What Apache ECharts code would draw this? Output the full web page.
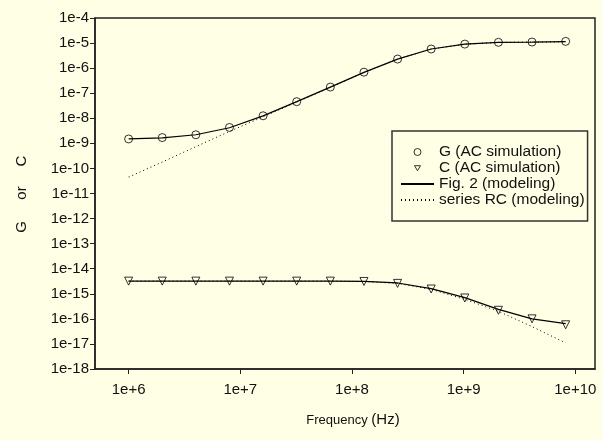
<!DOCTYPE html>
<html>
<head>
<meta charset="utf-8">
<script src="https://cdn.jsdelivr.net/npm/echarts@6/dist/echarts.min.js"></script>
<style>
  html, body { margin: 0; padding: 0; background: #ffffe6; }
  #chart { width: 602px; height: 440px; }
</style>
</head>
<body>
<div id="chart"></div>
<script>
// frequency points (Hz), doubling from 1 MHz
const freq = [1e6, 2e6, 4e6, 8e6, 1.6e7, 3.2e7, 6.4e7, 1.28e8, 2.56e8, 5.12e8, 1.024e9, 2.048e9, 4.096e9, 8.192e9];

// G curves
const gSim  = [1.5e-9, 1.7e-9, 2.2e-9, 4.3e-9, 1.26e-8, 4.6e-8, 1.76e-7, 6.9e-7, 2.3e-6, 5.8e-6, 9.1e-6, 1.07e-5, 1.1e-5, 1.17e-5];
const gFig2 = [1.5e-9, 1.65e-9, 2.2e-9, 4.2e-9, 1.25e-8, 4.6e-8, 1.75e-7, 6.8e-7, 2.3e-6, 5.8e-6, 9.0e-6, 1.06e-5, 1.1e-5, 1.15e-5];
const gRC   = [4.5e-11, 1.8e-10, 7.4e-10, 3.0e-9, 1.15e-8, 4.4e-8, 1.7e-7, 6.7e-7, 2.3e-6, 5.8e-6, 9.0e-6, 1.06e-5, 1.1e-5, 1.12e-5];

// C curves
const cSim  = [3.2e-15, 3.2e-15, 3.2e-15, 3.2e-15, 3.2e-15, 3.2e-15, 3.2e-15, 3.1e-15, 2.6e-15, 1.55e-15, 6.8e-16, 2.2e-16, 1.0e-16, 5.8e-17];
const cFig2 = [3.2e-15, 3.2e-15, 3.2e-15, 3.2e-15, 3.2e-15, 3.2e-15, 3.2e-15, 3.1e-15, 2.7e-15, 1.6e-15, 7.0e-16, 2.4e-16, 1.0e-16, 6.5e-17];
const cRC   = [3.2e-15, 3.2e-15, 3.2e-15, 3.2e-15, 3.2e-15, 3.2e-15, 3.2e-15, 3.1e-15, 2.6e-15, 1.5e-15, 6.0e-16, 2.0e-16, 4.9e-17, 1.1e-17];

// axis ticks
const xTicks = [1e6, 1e7, 1e8, 1e9, 1e10];

const FONT = '"Liberation Sans", Arial, sans-serif';
const pairs = (ys) => freq.map((f, i) => [f, ys[i]]);
const expOf = (v) => Math.round(Math.log10(v));

const chart = echarts.init(document.getElementById('chart'));

const simStyle = { color: 'transparent', borderColor: '#000', borderWidth: 1 };
// hide the little dot that line series put in the middle of their legend icon
const noDot = { color: 'transparent', borderWidth: 0 };

// legend icons; the extra moveTo points keep the small shapes from being stretched
const downTriangle = 'path://M0,0M33,7M13.5,1.2L19.5,1.2L16.5,6.2Z';

chart.setOption({
  backgroundColor: '#ffffe6',
  animation: false,
  grid: {
    left: 95, top: 18, right: 7, bottom: 71,
    show: true, borderColor: '#222', borderWidth: 1.5, backgroundColor: 'transparent'
  },
  xAxis: {
    type: 'log',
    logBase: 10,
    min: 5e5,
    max: 1.5e10,
    axisLine: { onZero: false, lineStyle: { color: '#222', width: 1.5 } },
    axisTick: { length: 5, customValues: xTicks, lineStyle: { color: '#222', width: 1 } },
    axisLabel: {
      customValues: xTicks,
      margin: 13,
      color: '#111',
      fontFamily: FONT,
      fontSize: 15,
      formatter: (v) => '1e+' + expOf(v)
    },
    splitLine: { show: false },
    minorTick: { show: false }
  },
  yAxis: {
    type: 'log',
    logBase: 10,
    min: 1e-18,
    max: 1e-4,
    interval: 1,
    axisLine: { onZero: false, lineStyle: { color: '#222', width: 1.5 } },
    axisTick: { length: 5, lineStyle: { color: '#222', width: 1 } },
    axisLabel: {
      margin: 6,
      color: '#111',
      fontFamily: FONT,
      fontSize: 15,
      formatter: (v) => '1e' + expOf(v)
    },
    splitLine: { show: false }
  },
  legend: {
    orient: 'vertical',
    left: 392,
    top: 131,
    padding: [13, 3, 13, 8],
    itemGap: 0,
    itemWidth: 33,
    itemHeight: 7,
    borderColor: '#333',
    borderWidth: 1.5,
    backgroundColor: '#ffffe6',
    textStyle: { color: '#111', fontFamily: FONT, fontSize: 15.5, lineHeight: 16 },
    data: [
      { name: 'G (AC simulation)', icon: 'circle',
        itemStyle: { color: 'transparent', borderColor: '#000', borderWidth: 1 } },
      { name: 'C (AC simulation)', icon: downTriangle, symbolRotate: 0,
        itemStyle: { color: 'transparent', borderColor: '#000', borderWidth: 1 } },
      { name: 'Fig. 2 (modeling)' },
      { name: 'series RC (modeling)' }
    ]
  },
  graphic: [
    { type: 'text', x: 22, y: 227, rotation: Math.PI / 2,
      style: { text: 'G', font: '15px ' + FONT, fill: '#111', align: 'center', verticalAlign: 'middle' } },
    { type: 'text', x: 22, y: 193, rotation: Math.PI / 2,
      style: { text: 'or', font: '15px ' + FONT, fill: '#111', align: 'center', verticalAlign: 'middle' } },
    { type: 'text', x: 22, y: 161, rotation: Math.PI / 2,
      style: { text: 'C', font: '15px ' + FONT, fill: '#111', align: 'center', verticalAlign: 'middle' } },
    { type: 'text', x: 353, y: 420,
      style: {
        text: '{a|Frequency }{b|(Hz)}',
        align: 'center', verticalAlign: 'middle',
        rich: {
          a: { fontSize: 13, fontFamily: FONT, fill: '#111' },
          b: { fontSize: 15, fontFamily: FONT, fill: '#111' }
        }
      } }
  ],
  series: [
    { name: 'Fig. 2 (modeling)', type: 'line', data: pairs(gFig2), symbol: 'none',
      lineStyle: { color: '#000', width: 1.2 }, itemStyle: noDot, z: 3 },
    { name: 'Fig. 2 (modeling)', type: 'line', data: pairs(cFig2), symbol: 'none',
      lineStyle: { color: '#000', width: 1.2 }, itemStyle: noDot, z: 3 },
    { name: 'series RC (modeling)', type: 'line', data: pairs(gRC), symbol: 'none',
      lineStyle: { color: '#000', width: 1, type: [1, 3] }, itemStyle: noDot, z: 2 },
    { name: 'series RC (modeling)', type: 'line', data: pairs(cRC), symbol: 'none',
      lineStyle: { color: '#000', width: 1, type: [1, 3] }, itemStyle: noDot, z: 2 },
    { name: 'G (AC simulation)', type: 'scatter', data: pairs(gSim), symbol: 'circle', symbolSize: 8,
      itemStyle: simStyle, z: 4 },
    { name: 'C (AC simulation)', type: 'scatter', data: pairs(cSim), symbol: 'triangle', symbolRotate: 180,
      symbolSize: 8, itemStyle: simStyle, z: 4 }
  ]
});
</script>
</body>
</html>
